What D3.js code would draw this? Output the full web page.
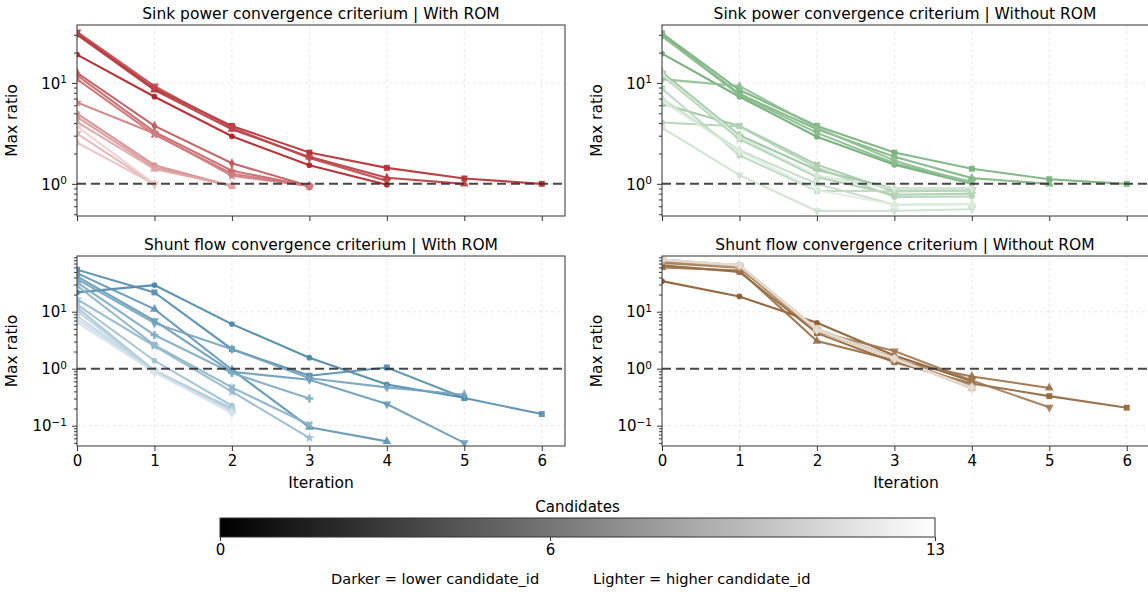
<!DOCTYPE html>
<html>
<head>
<meta charset="utf-8">
<script src="https://cdn.jsdelivr.net/npm/d3@7"></script>
<style>
  body { margin: 0; background: #fff; }
  svg { display: block; font-family: "DejaVu Sans", sans-serif; }
</style>
</head>
<body>
<svg id="chart" width="1148" height="592"></svg>
<script>
// Iterations on the x axis
const iterations = [0, 1, 2, 3, 4, 5, 6];

// One row per candidate_id (row 0 = darkest), one value per iteration
const sinkWithRom = [
  [19.1, 7.3, 2.96, 1.53, 0.98],
  [31, 8.8, 3.75, 2.04, 1.44, 1.13, 1.0],
  [30, 8.5, 3.47, 1.85, 1.15, 1.0],
  [32, 9.3, 3.6, 1.8, 1.07],
  [12.6, 3.75, 1.6, 0.95],
  [11.9, 3.27, 1.35, 0.95],
  [10.9, 3.08, 1.26, 0.95],
  [6.4, 3.15, 1.2, 0.95],
  [4.97, 1.53, 0.95],
  [4.6, 1.45, 0.95],
  [4.1, 1.4, 0.96],
  [3.15, 0.99],
  [2.56, 0.99],
  [3.7, 1.0]
];

const sinkWithoutRom = [
  [19.5, 7.3, 2.93, 1.55, 1.0],
  [31, 8.5, 3.75, 2.04, 1.41, 1.11, 1.0],
  [30, 7.8, 3.47, 1.86, 1.14, 1.0],
  [29, 7.6, 3.2, 1.6, 1.05],
  [10.9, 9.3, 3.6, 1.7, 1.0],
  [12.8, 3.03, 1.37, 0.9, 0.9],
  [6.2, 3.75, 1.55, 0.84, 0.86],
  [11.9, 2.77, 1.17, 0.78, 0.8],
  [4.05, 3.7, 1.45, 0.74, 0.75],
  [8.8, 1.92, 0.85, 0.85, 0.86],
  [7.0, 2.15, 1.0, 0.62, 0.63],
  [3.6, 1.22, 0.54, 0.54, 0.56],
  [12.2, 2.9, 1.2, 0.9, 0.9],
  [6.6, 2.1, 0.87, 0.62, 0.63]
];

const shuntWithRom = [
  [21.8, 29.3, 6.06, 1.56, 0.53, 0.31],
  [54.6, 21.8, 2.2, 0.754, 1.05, 0.305, 0.16],
  [47.5, 11.1, 0.96, 0.094, 0.053],
  [41.6, 6.95, 0.88, 0.64, 0.24, 0.05],
  [37.3, 6.3, 2.2, 0.68, 0.47, 0.35],
  [32.7, 3.9, 0.84, 0.3],
  [28.6, 2.6, 0.47, 0.104],
  [16.6, 2.5, 0.395, 0.061],
  [13.6, 1.38, 0.224],
  [11.9, 0.93, 0.2],
  [10.4, 0.91, 0.19],
  [8.5, 0.9, 0.18],
  [7.4, 0.88, 0.17],
  [6.5, 0.86, 0.167]
];

const shuntWithoutRom = [
  [34.4, 18.5, 6.4, 1.7, 0.6],
  [65, 50, 4.2, 1.3, 0.55, 0.33, 0.207],
  [60, 53, 3.05, 1.4, 0.73, 0.46],
  [72, 59, 4.5, 2.04, 0.62, 0.21],
  [76, 60, 4.6, 1.55, 0.5],
  [78, 61, 4.7, 1.5, 0.49],
  [79, 62, 4.8, 1.52, 0.48],
  [80, 63, 4.9, 1.5, 0.47],
  [80, 64, 5.0, 1.55, 0.46],
  [81, 64, 4.8, 1.5, 0.47],
  [82, 65, 4.7, 1.48, 0.46],
  [82, 65, 5.0, 1.52, 0.45],
  [81, 66, 4.9, 1.5, 0.46],
  [82, 66, 4.8, 1.5, 0.47]
];

const panelTitles = [
  "Sink power convergence criterium | With ROM",
  "Sink power convergence criterium | Without ROM",
  "Shunt flow convergence criterium | With ROM",
  "Shunt flow convergence criterium | Without ROM"
];
const panelData = [sinkWithRom, sinkWithoutRom, shuntWithRom, shuntWithoutRom];
const panelColors = ["#ad1f23", "#6cab71", "#4785a8", "#8b5a2b"];

const colorbarTicks = [0, 6, 13];
const maxCandidate = 13;
const threshold = 1;

const svg = d3.select("#chart");

// layout of the 2x2 grid
const colX = [[77, 565], [662, 1150]];
const rowY = [[25, 216], [256, 446]];
const rowDomain = [[0.48, 37.5], [0.044, 95]];
const rowDecades = [[0, 1], [-1, 0, 1]];

// matplotlib-ish marker cycle
const markers = [
  { type: d3.symbolCircle, size: 26, rot: 0 },
  { type: d3.symbolSquare, size: 36, rot: 0 },
  { type: d3.symbolTriangle, size: 34, rot: 0 },
  { type: d3.symbolTriangle, size: 34, rot: 180 },
  { type: d3.symbolDiamond, size: 30, rot: 0 },
  { type: d3.symbolCross, size: 34, rot: 0 },
  { type: d3.symbolCross, size: 34, rot: 45 },
  { type: d3.symbolStar, size: 34, rot: 0 }
];

const defs = svg.append("defs");

panelData.forEach((data, p) => {
  const col = p % 2;
  const row = Math.floor(p / 2);
  const [x0, x1] = colX[col];
  const [y0, y1] = rowY[row];

  const x = d3.scaleLinear().domain([0, 6.3]).range([x0, x1]);
  const y = d3.scaleLog().domain(rowDomain[row]).range([y1, y0]);
  const shade = d3.interpolateRgb(panelColors[p], "#ffffff");
  const colorFor = (id) => shade(0.78 * id / maxCandidate);

  const g = svg.append("g");

  defs.append("clipPath").attr("id", "clip" + p)
    .append("rect")
    .attr("x", x0).attr("y", y0)
    .attr("width", x1 - x0).attr("height", y1 - y0);

  // grid
  const grid = g.append("g")
    .attr("stroke", "#b0b0b0")
    .attr("stroke-opacity", 0.35)
    .attr("stroke-dasharray", "3,3")
    .attr("stroke-width", 0.8);
  grid.selectAll(".gx").data(iterations).enter().append("line")
    .attr("x1", (d) => x(d)).attr("x2", (d) => x(d))
    .attr("y1", y0).attr("y2", y1);
  grid.selectAll(".gy").data(rowDecades[row]).enter().append("line")
    .attr("x1", x0).attr("x2", x1)
    .attr("y1", (d) => y(Math.pow(10, d))).attr("y2", (d) => y(Math.pow(10, d)));

  // series
  const plot = g.append("g").attr("clip-path", `url(#clip${p})`);
  const line = d3.line().x((d, i) => x(iterations[i])).y((d) => y(d));

  data.forEach((values, id) => {
    const c = colorFor(id);
    const m = markers[id % markers.length];
    plot.append("path")
      .attr("d", line(values))
      .attr("fill", "none")
      .attr("stroke", c)
      .attr("stroke-width", 2.1)
      .attr("stroke-opacity", 0.9);
    plot.selectAll(null)
      .data(values)
      .enter()
      .append("path")
      .attr("d", d3.symbol().type(m.type).size(m.size))
      .attr("transform", (d, i) => `translate(${x(iterations[i])},${y(d)}) rotate(${m.rot})`)
      .attr("fill", c)
      .attr("fill-opacity", 0.9);
  });

  // threshold
  plot.append("line")
    .attr("x1", x0).attr("x2", x1)
    .attr("y1", y(threshold)).attr("y2", y(threshold))
    .attr("stroke", "#333")
    .attr("stroke-opacity", 0.9)
    .attr("stroke-width", 2)
    .attr("stroke-dasharray", "9,5");

  // frame
  g.append("rect")
    .attr("x", x0).attr("y", y0)
    .attr("width", x1 - x0).attr("height", y1 - y0)
    .attr("fill", "none")
    .attr("stroke", "#333")
    .attr("stroke-width", 1);

  // x axis
  const xAxis = g.append("g")
    .attr("transform", `translate(0,${y1})`)
    .call(d3.axisBottom(x).tickValues(iterations).tickSize(5).tickPadding(4)
      .tickFormat(row === 1 ? d3.format("d") : ""));
  xAxis.select(".domain").remove();
  xAxis.selectAll("line").attr("stroke", "#333");
  xAxis.selectAll("text")
    .attr("fill", "#000")
    .style("font-size", "15px")
    .style("font-family", "DejaVu Sans");

  // y axis: minor ticks
  const [lo, hi] = rowDomain[row];
  const minor = [];
  for (let e = -2; e <= 2; e++) {
    for (let k = 2; k <= 9; k++) {
      const v = k * Math.pow(10, e);
      if (v >= lo && v <= hi) minor.push(v);
    }
  }
  const yMinor = g.append("g")
    .attr("transform", `translate(${x0},0)`)
    .call(d3.axisLeft(y).tickValues(minor).tickSize(3).tickFormat(""));
  yMinor.select(".domain").remove();
  yMinor.selectAll("line").attr("stroke", "#333");

  // y axis: decades with superscript labels
  const yMajor = g.append("g")
    .attr("transform", `translate(${x0},0)`)
    .call(d3.axisLeft(y).tickValues(rowDecades[row].map((e) => Math.pow(10, e)))
      .tickSize(5).tickPadding(5).tickFormat(""));
  yMajor.select(".domain").remove();
  yMajor.selectAll("line").attr("stroke", "#333");
  yMajor.selectAll(".tick text").each(function (d) {
    const e = Math.round(Math.log10(d));
    const t = d3.select(this)
      .attr("fill", "#000")
      .attr("dy", "0.35em")
      .style("font-size", "15px")
      .style("font-family", "DejaVu Sans");
    t.text("10");
    t.append("tspan")
      .attr("dy", "-0.55em")
      .style("font-size", "10.5px")
      .text(e < 0 ? "\u2212" + Math.abs(e) : String(e));
  });

  // titles and labels
  g.append("text")
    .attr("x", (x0 + x1) / 2 + (col === 1 ? -1 : 0))
    .attr("y", y0 - 6)
    .attr("text-anchor", "middle")
    .style("font-size", "15.5px")
    .text(panelTitles[p]);

  g.append("text")
    .attr("transform", `translate(${x0 - 60},${(y0 + y1) / 2}) rotate(-90)`)
    .attr("text-anchor", "middle")
    .style("font-size", "15.5px")
    .text("Max ratio");

  if (row === 1) {
    g.append("text")
      .attr("x", (x0 + x1) / 2)
      .attr("y", y1 + 42)
      .attr("text-anchor", "middle")
      .style("font-size", "15.5px")
      .text("Iteration");
  }
});

// colorbar
const cbX = d3.scaleLinear().domain([0, maxCandidate]).range([220, 935]);
const grad = defs.append("linearGradient").attr("id", "cbGrad");
grad.append("stop").attr("offset", "0%").attr("stop-color", "#000");
grad.append("stop").attr("offset", "100%").attr("stop-color", "#fff");

const cb = svg.append("g");
cb.append("rect")
  .attr("x", cbX(0)).attr("y", 518)
  .attr("width", cbX(maxCandidate) - cbX(0)).attr("height", 19)
  .attr("fill", "url(#cbGrad)")
  .attr("stroke", "#333")
  .attr("stroke-width", 1);

const cbAxis = cb.append("g")
  .attr("transform", "translate(0,537)")
  .call(d3.axisBottom(cbX).tickValues(colorbarTicks).tickSize(4).tickPadding(3));
cbAxis.select(".domain").remove();
cbAxis.selectAll("line").attr("stroke", "#333");
cbAxis.selectAll("text")
  .attr("fill", "#000")
  .style("font-size", "15px")
  .style("font-family", "DejaVu Sans");

cb.append("text")
  .attr("x", (cbX(0) + cbX(maxCandidate)) / 2)
  .attr("y", 512)
  .attr("text-anchor", "middle")
  .style("font-size", "15px")
  .text("Candidates");

svg.append("text")
  .attr("x", 331).attr("y", 584)
  .style("font-size", "14.6px")
  .text("Darker = lower candidate_id");
svg.append("text")
  .attr("x", 593).attr("y", 584)
  .style("font-size", "14.6px")
  .text("Lighter = higher candidate_id");
</script>
</body>
</html>
